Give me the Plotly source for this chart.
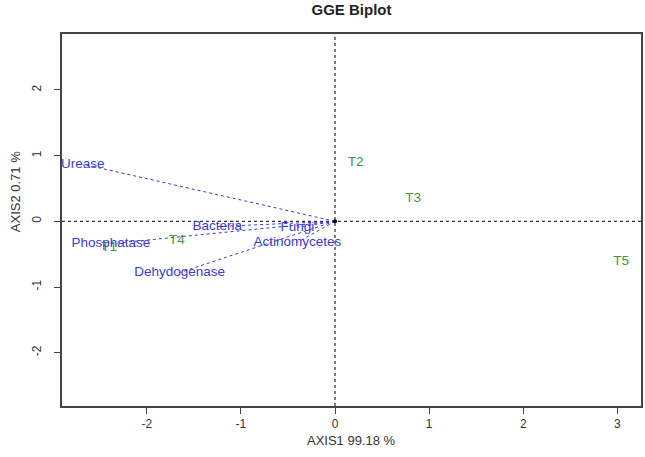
import plotly.graph_objects as go

# Environment (trait) vectors
env_names = ["Urease", "Phosphatase", "Bacteria", "Fungi", "Actinomycetes", "Dehydogenase"]
env_x = [-2.68, -2.38, -1.25, -0.40, -0.40, -1.65]
env_y = [0.87, -0.34, -0.08, -0.09, -0.32, -0.78]

# Treatments (genotypes)
gen_names = ["T1", "T2", "T3", "T4", "T5"]
gen_x = [-2.40, 0.22, 0.83, -1.68, 3.04]
gen_y = [-0.40, 0.89, 0.35, -0.30, -0.62]

x_ticks = [-2, -1, 0, 1, 2, 3]
y_ticks = [-2, -1, 0, 1, 2]
x_range = [-2.90, 3.25]
y_range = [-2.81, 2.85]

BLUE = "#3a3ad4"
GREEN = "#3c9a3c"
FONT = "Liberation Sans, Arial, sans-serif"

fig = go.Figure()

# reference lines through origin
fig.add_trace(go.Scatter(x=[x_range[0], x_range[1]], y=[0, 0], mode="lines",
                         line=dict(color="black", width=1, dash="dot"), hoverinfo="skip"))
fig.add_trace(go.Scatter(x=[0, 0], y=[y_range[0], y_range[1]], mode="lines",
                         line=dict(color="black", width=1, dash="dot"), hoverinfo="skip"))

# vectors
for ex, ey in zip(env_x, env_y):
    fig.add_trace(go.Scatter(x=[0, ex], y=[0, ey], mode="lines",
                             line=dict(color=BLUE, width=1, dash="dot"), hoverinfo="skip"))

# origin point
fig.add_trace(go.Scatter(x=[0], y=[0], mode="markers",
                         marker=dict(color="black", size=4), hoverinfo="skip"))

# genotype labels
fig.add_trace(go.Scatter(x=gen_x, y=gen_y, mode="text", text=gen_names,
                         textposition="middle center", cliponaxis=True,
                         textfont=dict(color=GREEN, size=13.5, family=FONT)))
# environment labels
fig.add_trace(go.Scatter(x=env_x, y=env_y, mode="text", text=env_names,
                         textposition="middle center", cliponaxis=True,
                         textfont=dict(color=BLUE, size=13.5, family=FONT)))

axis_common = dict(showgrid=False, zeroline=False, showline=True, linecolor="#444444",
                   linewidth=1.5, mirror=True, ticks="outside", ticklen=6,
                   tickcolor="#444444", tickfont=dict(size=12, color="#333333", family=FONT))

fig.update_xaxes(range=x_range, tickvals=x_ticks, ticktext=[str(v) for v in x_ticks],
                 **axis_common)
fig.update_yaxes(range=y_range, tickvals=y_ticks, ticktext=[str(v) for v in y_ticks],
                 tickangle=-90, ticklabelstandoff=8, **axis_common)

fig.update_layout(
    width=645, height=457, autosize=False,
    margin=dict(l=62, r=2, t=34, b=51),
    plot_bgcolor="white", paper_bgcolor="white",
    showlegend=False,
    font=dict(family=FONT),
    title=dict(text="<b>GGE Biplot</b>", x=0.5, xref="paper", y=1 - 10 / 457,
               yanchor="middle", xanchor="center",
               font=dict(size=15, color="#222222", family=FONT)),
    annotations=[
        dict(text="AXIS1 99.18 %", xref="paper", yref="paper", x=0.5, y=-0.092,
             xanchor="center", yanchor="middle", showarrow=False,
             font=dict(size=13, color="#333333", family=FONT)),
        dict(text="AXIS2 0.71 %", xref="paper", yref="paper", x=-0.081, y=0.575,
             xanchor="center", yanchor="middle", textangle=-90, showarrow=False,
             font=dict(size=13, color="#333333", family=FONT)),
    ],
)

fig.write_html("out.html", config={"displayModeBar": False},
               post_script="document.body.style.margin='0px';document.body.style.overflow='hidden';")
